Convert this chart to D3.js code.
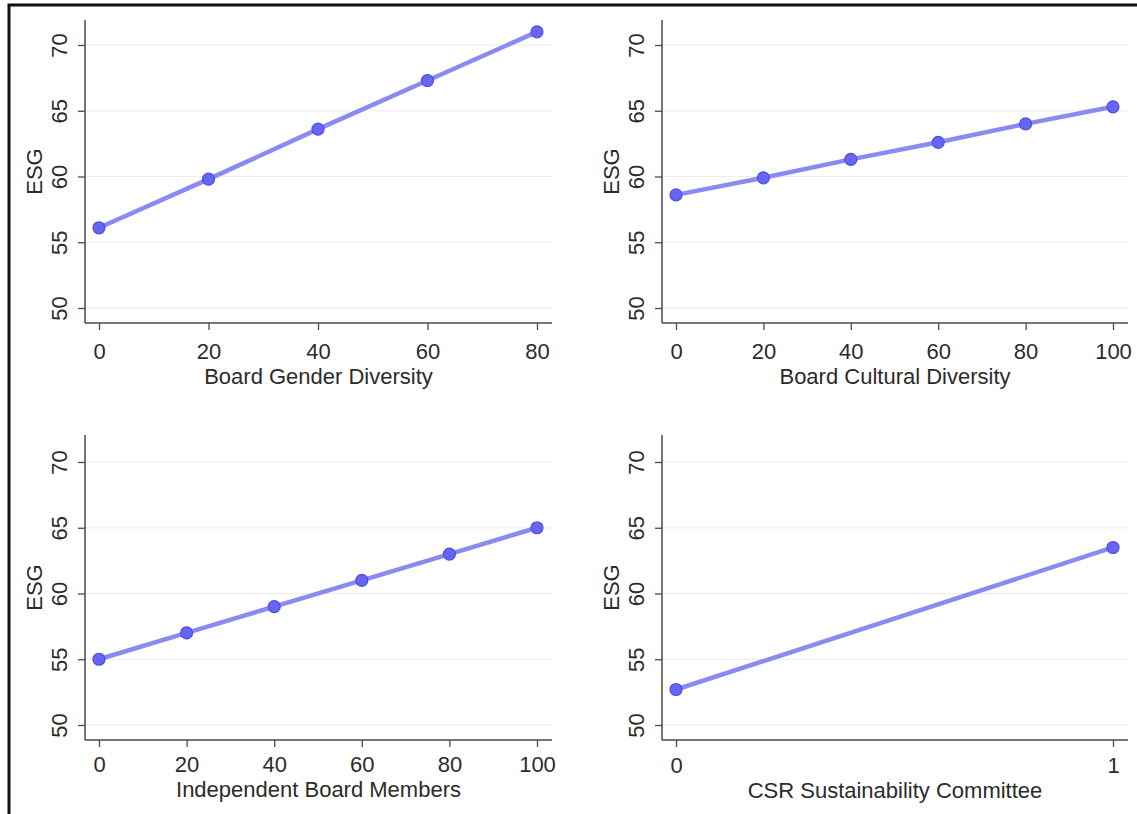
<!DOCTYPE html>
<html>
<head>
<meta charset="utf-8">
<script src="https://cdn.jsdelivr.net/npm/d3@7"></script>
<style>
  html, body { margin: 0; padding: 0; background: #fff; }
  svg { display: block; font-family: "Liberation Sans", Arial, sans-serif; }
</style>
</head>
<body>
<svg id="chart" width="1137" height="814"></svg>
<script>
// ESG vs. board characteristics
const yTicks = [50, 55, 60, 65, 70];

const genderX = [0, 20, 40, 60, 80];
const genderY = [56.1, 59.8, 63.6, 67.3, 71.0];

const culturalX = [0, 20, 40, 60, 80, 100];
const culturalY = [58.6, 59.9, 61.3, 62.6, 64.0, 65.3];

const independentX = [0, 20, 40, 60, 80, 100];
const independentY = [55.0, 57.0, 59.0, 61.0, 63.0, 65.0];

const csrX = [0, 1];
const csrY = [52.7, 63.5];

const panels = [
  { title: "Board Gender Diversity", xs: genderX, ys: genderY, ticks: genderX,
    left: 85, right: 552, top: 20, bottom: 323, tickDy: 28, titleDy: 53 },
  { title: "Board Cultural Diversity", xs: culturalX, ys: culturalY, ticks: culturalX,
    left: 662, right: 1128, top: 20, bottom: 323, tickDy: 28, titleDy: 53 },
  { title: "Independent Board Members", xs: independentX, ys: independentY, ticks: independentX,
    left: 85, right: 552, top: 435, bottom: 740, tickDy: 24, titleDy: 49 },
  { title: "CSR Sustainability Committee", xs: csrX, ys: csrY, ticks: csrX,
    left: 662, right: 1128, top: 435, bottom: 740, tickDy: 25, titleDy: 50 }
];

const svg = d3.select("#chart");
const axisColor = "#4a4a4a";
const textColor = "#2b2b2b";
const fs = "22px";

// outer frame
svg.append("rect")
  .attr("x", 9).attr("y", 5)
  .attr("width", 1140).attr("height", 830)
  .attr("fill", "none")
  .attr("stroke", "#111")
  .attr("stroke-width", 3);

panels.forEach(p => {
  const g = svg.append("g");
  const xMax = d3.max(p.ticks);
  const x = d3.scaleLinear().domain([0, xMax]).range([p.left + 14, p.right - 15]);
  const y = d3.scaleLinear().domain([50, 70])
    .range([p.bottom - 15, p.bottom - 15 - 263]);

  // grid
  g.selectAll(".grid")
    .data(yTicks)
    .join("line")
    .attr("x1", p.left).attr("x2", p.right)
    .attr("y1", d => y(d)).attr("y2", d => y(d))
    .attr("stroke", "#ececec")
    .attr("stroke-width", 1.2);

  // y axis
  const yAxis = g.append("g")
    .attr("transform", `translate(${p.left},0)`)
    .call(d3.axisLeft(y).tickValues(yTicks).tickSize(7).tickSizeOuter(0));
  yAxis.select(".domain").attr("d", `M0,${p.top}V${p.bottom}`)
    .attr("stroke", axisColor).attr("stroke-width", 1.5);
  yAxis.selectAll(".tick line").attr("stroke", axisColor).attr("stroke-width", 1.3);
  yAxis.selectAll(".tick text")
    .attr("fill", textColor)
    .style("font-size", fs)
    .attr("text-anchor", "middle")
    .attr("x", null)
    .attr("transform", "translate(-26,0) rotate(-90)")
    .attr("dy", "0.35em");

  // x axis
  const xAxis = g.append("g")
    .attr("transform", `translate(0,${p.bottom})`)
    .call(d3.axisBottom(x).tickValues(p.ticks).tickFormat(d3.format("d"))
      .tickSize(7).tickSizeOuter(0));
  xAxis.select(".domain").attr("d", `M${p.left},0H${p.right}`)
    .attr("stroke", axisColor).attr("stroke-width", 1.5);
  xAxis.selectAll(".tick line").attr("stroke", axisColor).attr("stroke-width", 1.3);
  xAxis.selectAll(".tick text")
    .attr("fill", textColor)
    .style("font-size", fs)
    .attr("y", p.tickDy)
    .attr("dy", "0.35em");

  // axis titles
  g.append("text")
    .attr("x", (p.left + p.right) / 2)
    .attr("y", p.bottom + p.titleDy)
    .attr("dy", "0.35em")
    .attr("text-anchor", "middle")
    .attr("fill", textColor)
    .style("font-size", fs)
    .text(p.title);

  g.append("text")
    .attr("transform", `translate(${p.left - 51},${(p.top + p.bottom) / 2}) rotate(-90)`)
    .attr("text-anchor", "middle")
    .attr("dy", "0.35em")
    .attr("fill", textColor)
    .style("font-size", fs)
    .text("ESG");

  // line + markers
  const pts = p.xs.map((v, i) => [v, p.ys[i]]);
  g.append("path")
    .datum(pts)
    .attr("d", d3.line().x(d => x(d[0])).y(d => y(d[1])))
    .attr("fill", "none")
    .attr("stroke", "#8a8af2")
    .attr("stroke-width", 4.5)
    .attr("stroke-linecap", "round");

  g.selectAll(".pt")
    .data(pts)
    .join("circle")
    .attr("cx", d => x(d[0]))
    .attr("cy", d => y(d[1]))
    .attr("r", 6)
    .attr("fill", "#6666f4")
    .attr("stroke", "#4d4de0")
    .attr("stroke-width", 1.2);
});
</script>
</body>
</html>
